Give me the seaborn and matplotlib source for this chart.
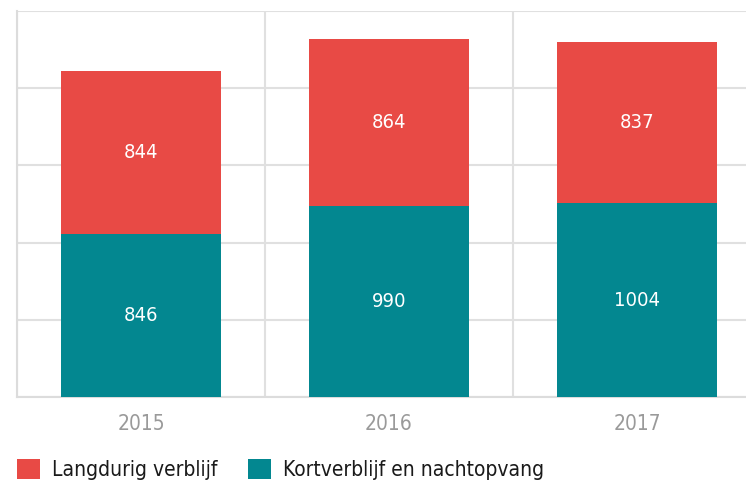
import matplotlib
matplotlib.use("Agg")
import matplotlib.pyplot as plt
from matplotlib.patches import Patch
import pandas as pd
import seaborn as sns

YEARS = ["2015", "2016", "2017"]
KORT = [846, 990, 1004]
LANG = [844, 864, 837]
SERIES = ["Langdurig verblijf", "Kortverblijf en nachtopvang"]
COLORS = {"Langdurig verblijf": "#e84a45", "Kortverblijf en nachtopvang": "#038790"}
Y_TICKS = [0, 400, 800, 1200, 1600, 2000]

sns.set_theme(style="white")
plt.rcParams["font.family"] = ["DejaVu Sans"]
plt.rcParams["font.stretch"] = "condensed"

df = pd.DataFrame({"year": YEARS, "kort": KORT, "lang": LANG})
df["total"] = df["kort"] + df["lang"]

fig = plt.figure(figsize=(7.46, 4.83), dpi=100)
ax = fig.add_axes([17 / 746, 1 - 397 / 483, 744 / 746, 386 / 483])

# stacked look: totals in red, short-stay on top of it in teal
sns.barplot(data=df, x="year", y="total", color=COLORS[SERIES[0]],
            width=0.645, saturation=1, linewidth=0, ax=ax, zorder=3)
sns.barplot(data=df, x="year", y="kort", color=COLORS[SERIES[1]],
            width=0.645, saturation=1, linewidth=0, ax=ax, zorder=3)

for i, row in df.iterrows():
    ax.text(i, row["kort"] / 2, str(row["kort"]), ha="center", va="center",
            color="white", fontsize=14.5, zorder=4)
    ax.text(i, row["kort"] + row["lang"] / 2, str(row["lang"]), ha="center",
            va="center", color="white", fontsize=14.5, zorder=4)

ax.set_ylim(0, 2000)
ax.set_xlim(-0.5, 2.5)
ax.set_yticks(Y_TICKS)
ax.set_yticklabels([])
ax.set_xticks([-0.5, 0.5, 1.5, 2.5], minor=True)
ax.grid(axis="y", which="major", color="#e0e0e0", linewidth=1.5, zorder=0)
ax.grid(axis="x", which="minor", color="#e0e0e0", linewidth=1.5, zorder=0)
ax.tick_params(axis="both", which="both", length=0)
ax.tick_params(axis="x", pad=12, labelsize=15, labelcolor="#9a9a9a")
ax.set_xlabel("")
ax.set_ylabel("")
for side, spine in ax.spines.items():
    spine.set_visible(side in ("left", "bottom"))
    spine.set_color("#dcdcdc")
    spine.set_linewidth(1.5)

handles = [Patch(facecolor=COLORS[s], edgecolor="none", label=s) for s in SERIES]
fig.legend(handles=handles, loc="lower left", bbox_to_anchor=(14 / 746, 0.0),
           ncol=2, frameon=False, fontsize=15, handlelength=1.1, handleheight=1.1,
           handletextpad=0.55, columnspacing=1.5, labelcolor="#1a1a1a",
           borderpad=0, borderaxespad=0.15)

fig.savefig("out.png", dpi=100)
